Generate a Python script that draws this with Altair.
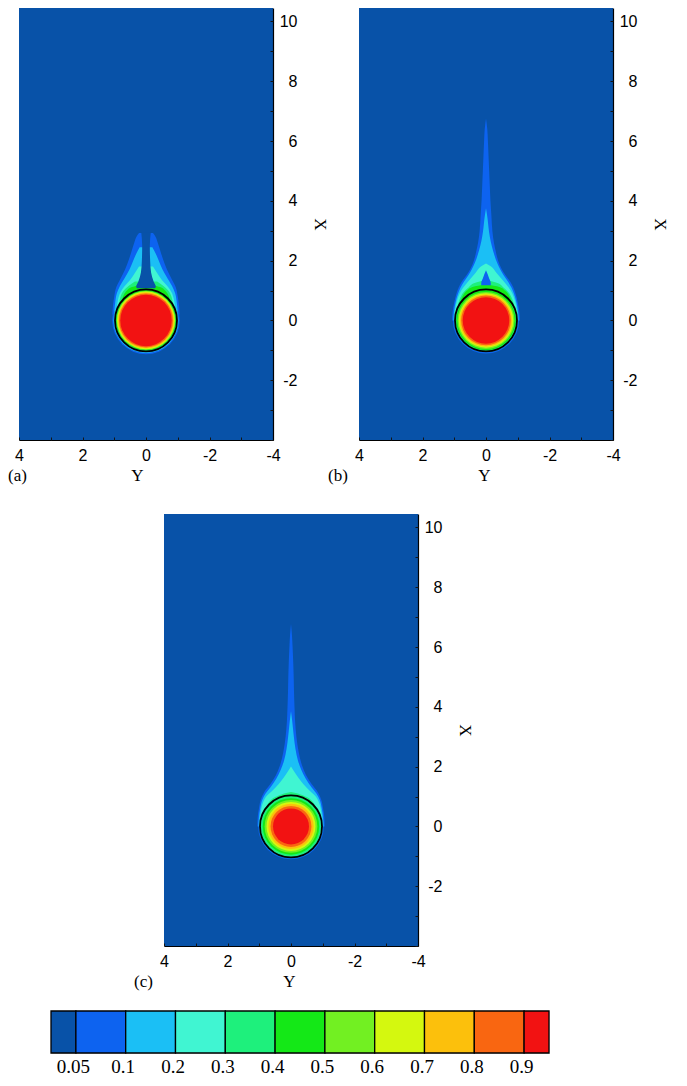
import altair as alt
import pandas as pd

# ---------------- values ----------------
LEVEL_LABELS = ["0.05", "0.1", "0.2", "0.3", "0.4", "0.5", "0.6", "0.7", "0.8", "0.9"]
LEVEL_COLORS = ["#0852a8", "#0d63f0", "#1bbff5", "#40f5d2", "#1ef07c", "#14e817",
                "#72f022", "#d4f80f", "#fcc00c", "#f96611", "#f21212"]
CB_LEFT = [-0.5, 0, 1, 2, 3, 4, 5, 6, 7, 8, 9]
CB_RIGHT = [0, 1, 2, 3, 4, 5, 6, 7, 8, 9, 9.5]

Y_TICKS = [4, 2, 0, -2, -4]
X_TICKS = [-2, 0, 2, 4, 6, 8, 10]
Y_MINOR = [4, 3, 2, 1, 0, -1, -2, -3, -4]
X_MINOR = [-4, -3, -2, -1, 0, 1, 2, 3, 4, 5, 6, 7, 8, 9, 10]
PANEL_LABELS = ["(a)", "(b)", "(c)"]

DROP_Y = [0.0]
DROP_X = [0.0]
INTERFACE_R = [1.0]

# radii of the level discs (levels 0.05 ... 0.9)
A_DISK = [1.09, 1.05, 1.01, 0.99, 0.97, 0.95, 0.93, 0.90, 0.87, 0.83]
B_DISK = [1.07, 1.03, 1.01, 0.99, 0.96, 0.92, 0.88, 0.84, 0.80, 0.75]
C_DISK = [1.06, 1.03, 1.00, 0.97, 0.91, 0.85, 0.79, 0.73, 0.66, 0.58]

# wake: X position and half-width in Y, per level
A1_X = [0.2, 0.5, 0.8, 1.1, 1.4, 1.7, 2.0, 2.3, 2.6, 2.8, 2.92]
A1_W = [1.06, 1.04, 1.0, 0.94, 0.8, 0.66, 0.55, 0.46, 0.37, 0.3, 0.22]
A2_X = [0.3, 0.6, 0.9, 1.15, 1.4, 1.7, 2.0, 2.25, 2.45]
A2_W = [1.0, 0.97, 0.92, 0.82, 0.68, 0.52, 0.4, 0.3, 0.2]
A3_X = [0.4, 0.7, 0.95, 1.15, 1.35, 1.6, 1.8]
A3_W = [0.92, 0.88, 0.8, 0.67, 0.5, 0.34, 0.22]
A4_X = [0.5, 0.8, 1.0, 1.15, 1.3]
A4_W = [0.85, 0.8, 0.7, 0.55, 0.35]
A5_X = [0.6, 0.85, 1.0, 1.1, 1.16]
A5_W = [0.76, 0.7, 0.6, 0.48, 0.3]
A_GAP_X = [1.08, 1.12, 1.3, 1.6, 2.0, 2.5, 2.95]
A_GAP_W = [0.28, 0.31, 0.24, 0.16, 0.13, 0.12, 0.15]

B1_X = [0.0, 0.3, 0.6, 0.9, 1.1, 1.3, 1.5, 1.7, 2.0, 2.3, 2.6, 3.0, 3.5, 4.0, 4.5, 5.0, 5.5, 6.0, 6.4, 6.75]
B1_W = [1.07, 1.05, 1.0, 0.93, 0.86, 0.76, 0.62, 0.5, 0.38, 0.31, 0.25, 0.2, 0.17, 0.14, 0.12, 0.1, 0.08, 0.06, 0.04, 0.0]
B2_X = [0.0, 0.3, 0.6, 0.9, 1.1, 1.3, 1.5, 1.7, 1.9, 2.2, 2.5, 2.8, 3.1, 3.4, 3.75]
B2_W = [1.03, 1.01, 0.96, 0.88, 0.8, 0.69, 0.56, 0.45, 0.36, 0.26, 0.18, 0.12, 0.08, 0.05, 0.0]
B3_X = [0.2, 0.5, 0.8, 1.0, 1.2, 1.4, 1.6, 1.8, 1.9]
B3_W = [0.99, 0.95, 0.87, 0.78, 0.64, 0.48, 0.32, 0.16, 0.0]
B4_X = [0.4, 0.7, 0.95, 1.1, 1.25, 1.35]
B4_W = [0.9, 0.83, 0.7, 0.55, 0.36, 0.0]
B5_X = [0.5, 0.8, 1.0, 1.12, 1.2]
B5_W = [0.83, 0.74, 0.6, 0.42, 0.0]
B_GAP_X = [1.18, 1.25, 1.4, 1.55, 1.68]
B_GAP_W = [0.15, 0.15, 0.1, 0.05, 0.0]

C1_X = [0.0, 0.3, 0.6, 0.9, 1.15, 1.4, 1.7, 2.0, 2.5, 3.0, 3.5, 4.0, 4.5, 5.0, 5.5, 6.0, 6.4, 6.78]
C1_W = [1.06, 1.05, 1.01, 0.95, 0.84, 0.66, 0.48, 0.36, 0.24, 0.17, 0.13, 0.11, 0.095, 0.085, 0.07, 0.05, 0.03, 0.0]
C2_X = [0.0, 0.3, 0.6, 0.9, 1.1, 1.3, 1.6, 1.9, 2.2, 2.6, 3.0, 3.3, 3.6, 3.85]
C2_W = [1.03, 1.01, 0.97, 0.9, 0.8, 0.65, 0.46, 0.32, 0.22, 0.14, 0.09, 0.06, 0.03, 0.0]
C3_X = [0.2, 0.5, 0.8, 1.0, 1.2, 1.4, 1.6, 1.8, 2.0]
C3_W = [0.98, 0.95, 0.88, 0.78, 0.58, 0.4, 0.25, 0.12, 0.0]
C4_X = [0.5, 0.8, 0.98, 1.08, 1.15]
C4_W = [0.82, 0.7, 0.5, 0.28, 0.0]

# ---------------- layout ----------------
W, H = 254, 432
SERIF = "Liberation Serif"
SANS = "Liberation Sans"
R_PX = 31.0
SIZE_MAX = 4 * (R_PX * 1.5) ** 2

xscale = alt.Scale(domain=[4, -4], nice=False, zero=False)
yscale = alt.Scale(domain=[-4, 10.45], nice=False, zero=False)
sscale = alt.Scale(type="pow", exponent=2, domain=[0, 1.5], range=[0, SIZE_MAX])

MINUS = "datum.value < 0 ? '-' + abs(datum.value) : '' + datum.value"


def wake_df(xs, ws):
    return pd.DataFrame({"X": xs, "left": [-w for w in ws], "right": ws})


def disc_df(r):
    return pd.DataFrame({"cy": DROP_Y, "cx": DROP_X, "r": [r]})


def area_layer(xs, ws, color):
    return alt.Chart(wake_df(xs, ws)).mark_area(
        orient="horizontal", interpolate="monotone", color=color, opacity=1, strokeWidth=0
    ).encode(
        y=alt.Y("X:Q", scale=yscale, axis=None),
        x=alt.X("left:Q", scale=xscale, axis=None),
        x2="right:Q",
    )


def disc_layer(r, color):
    return alt.Chart(disc_df(r)).mark_point(
        shape="circle", filled=True, opacity=1, color=color, strokeWidth=0
    ).encode(
        x=alt.X("cy:Q", scale=xscale, axis=None),
        y=alt.Y("cx:Q", scale=yscale, axis=None),
        size=alt.Size("r:Q", scale=sscale, legend=None),
    )


def bottom_axis(title_x):
    return alt.Axis(
        orient="bottom", values=Y_TICKS, title="Y", ticks=False, tickSize=0,
        domain=True, domainColor="black", domainWidth=1.2, grid=False,
        labelFont=SANS, labelFontSize=16, labelColor="black", labelPadding=7,
        labelFlush=False, labelOverlap=False, labelExpr=MINUS,
        titleFont=SERIF, titleFontSize=17, titleFontWeight="normal", titleColor="black",
        titlePadding=4, titleX=title_x,
    )


right_axis = alt.Axis(
    orient="right", values=X_TICKS, title="X", ticks=False, tickSize=0,
    domain=True, domainColor="black", domainWidth=1.2, grid=False,
    labelFont=SANS, labelFontSize=16, labelColor="black", labelPadding=24,
    labelAlign="right", labelBaseline="middle", labelFlush=False, labelOverlap=False,
    labelExpr=MINUS,
    titleFont=SERIF, titleFontSize=17, titleFontWeight="normal", titleColor="black",
    titlePadding=13,
)
tick_x_axis = alt.Axis(
    orient="top", offset=-H, values=Y_MINOR, labels=False, domain=False, ticks=True,
    tickSize=3, tickColor="#151515", tickWidth=1, grid=False, title=None,
)
tick_y_axis = alt.Axis(
    orient="left", offset=-W, values=X_MINOR, labels=False, domain=False, ticks=True,
    tickSize=3, tickColor="#151515", tickWidth=1, grid=False, title=None,
)


def panel(label, label_dx, title_x, disks, wakes, gap, gap_color):
    layers = []
    for k in range(1, 11):
        if k in wakes:
            xs, ws = wakes[k]
            layers.append(area_layer(xs, ws, LEVEL_COLORS[k]))
        layers.append(disc_layer(disks[k - 1], LEVEL_COLORS[k]))
    if gap is not None:
        layers.append(area_layer(gap[0], gap[1], gap_color))
    iface = pd.DataFrame({"cy": DROP_Y, "cx": DROP_X, "r": INTERFACE_R})
    layers.append(
        alt.Chart(iface).mark_point(
            shape="circle", filled=False, color="black", strokeWidth=1.8, opacity=1
        ).encode(
            x=alt.X("cy:Q", scale=xscale, axis=bottom_axis(title_x)),
            y=alt.Y("cx:Q", scale=yscale, axis=right_axis),
            size=alt.Size("r:Q", scale=sscale, legend=None),
        )
    )
    layers.append(
        alt.Chart(iface).mark_point(opacity=0).encode(
            x=alt.X("cy:Q", scale=xscale, axis=tick_x_axis),
            y=alt.Y("cx:Q", scale=yscale, axis=tick_y_axis),
        )
    )
    layers.append(
        alt.Chart(pd.DataFrame({"t": [label]})).mark_text(
            align="left", baseline="middle", font=SERIF, fontSize=17, color="black"
        ).encode(x=alt.value(label_dx), y=alt.value(H + 36), text="t:N")
    )
    return alt.layer(*layers).resolve_axis(x="independent", y="independent").properties(
        width=W, height=H, view=alt.ViewBackground(fill=LEVEL_COLORS[0], stroke=None)
    )


def spacer(w):
    return alt.Chart(pd.DataFrame({"v": [0]})).mark_point(opacity=0, size=0).encode(
        x=alt.value(0), y=alt.value(0)
    ).properties(width=w, height=1,
                 view=alt.ViewBackground(fill=None, stroke=None, strokeWidth=0))


pa = panel(PANEL_LABELS[0], -11, 118, A_DISK,
           {1: (A1_X, A1_W), 2: (A2_X, A2_W), 3: (A3_X, A3_W), 4: (A4_X, A4_W), 5: (A5_X, A5_W)},
           (A_GAP_X, A_GAP_W), LEVEL_COLORS[0])
pb = panel(PANEL_LABELS[1], -31, 125, B_DISK,
           {1: (B1_X, B1_W), 2: (B2_X, B2_W), 3: (B3_X, B3_W), 4: (B4_X, B4_W), 5: (B5_X, B5_W)},
           (B_GAP_X, B_GAP_W), LEVEL_COLORS[1])
pc = panel(PANEL_LABELS[2], -30, 125, C_DISK,
           {1: (C1_X, C1_W), 2: (C2_X, C2_W), 3: (C3_X, C3_W), 4: (C4_X, C4_W)},
           None, None)

cb_df = pd.DataFrame({"x0": CB_LEFT, "x1": CB_RIGHT, "y0": [0] * 11, "y1": [1] * 11,
                      "c": LEVEL_COLORS})
label_expr = "[" + ",".join("'" + s + "'" for s in LEVEL_LABELS) + "][datum.value]"
colorbar = alt.Chart(cb_df).mark_rect(stroke="black", strokeWidth=1.3, opacity=1).encode(
    x=alt.X("x0:Q", scale=alt.Scale(domain=[-0.5, 9.5], nice=False, zero=False),
            axis=alt.Axis(values=list(range(10)), labelExpr=label_expr, ticks=False,
                          domain=False, grid=False, title=None, labelFont=SERIF,
                          labelFontSize=19, labelColor="black", labelPadding=4,
                          labelOffset=-3,
                          labelFlush=False, labelOverlap=False)),
    x2="x1:Q",
    y=alt.Y("y0:Q", scale=alt.Scale(domain=[0, 1], nice=False, zero=False), axis=None),
    y2="y1:Q",
    color=alt.Color("c:N", scale=None),
).properties(width=498, height=42)

row1 = alt.hconcat(pa, pb, spacing=0)
row_c = alt.hconcat(spacer(95), pc, spacing=20)
row_cb = alt.hconcat(spacer(10), colorbar, spacing=20)
row23 = alt.vconcat(row_c, row_cb, spacing=19)
chart = alt.vconcat(row1, row23, spacing=30).properties(
    padding={"left": 0, "top": 0, "right": 0, "bottom": 0}
).configure_view(strokeWidth=0, stroke=None).configure(background="white")

chart.save("out.html", embed_options={"renderer": "svg", "actions": False})
